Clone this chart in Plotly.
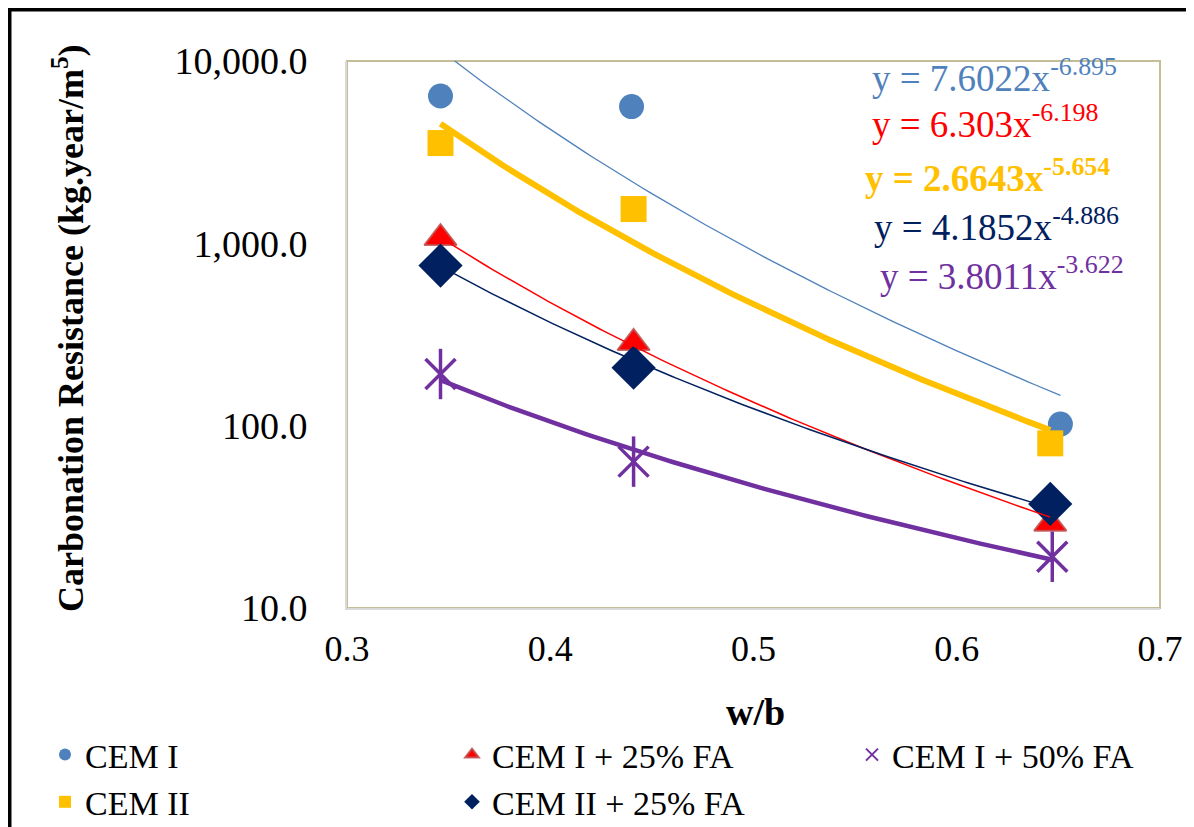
import numpy as np
import plotly.graph_objects as go

# ---------------- data ----------------
series_names = ["CEM I", "CEM II", "CEM I + 25% FA", "CEM II + 25% FA", "CEM I + 50% FA"]

wb_cem1 = [0.346, 0.440, 0.651]
cem1 = [6430, 5625, 102]

wb_cem2 = [0.346, 0.441, 0.646]
cem2 = [3548, 1542, 80]

wb_cem1_fa25 = [0.346, 0.441, 0.646]
cem1_fa25 = [1069, 284, 29.0]

wb_cem2_fa25 = [0.346, 0.441, 0.646]
cem2_fa25 = [755, 208, 37.2]

wb_cem1_fa50 = [0.346, 0.441, 0.647]
cem1_fa50 = [192, 63.5, 19.1]

# power trendlines y = a * x^b (as drawn)
trend_coef = {"CEM I": 7.6022, "CEM II": 6.303, "CEM I + 25% FA": 2.6643,
              "CEM II + 25% FA": 4.1852, "CEM I + 50% FA": 3.8011}
trend_exp = {"CEM I": -6.895, "CEM II": -6.198, "CEM I + 25% FA": -5.654,
             "CEM II + 25% FA": -4.886, "CEM I + 50% FA": -3.622}

# equation labels as printed on the chart
eq_coef_text = ["7.6022", "6.303", "2.6643", "4.1852", "3.8011"]
eq_exp_text = ["-6.895", "-6.198", "-5.654", "-4.886", "-3.622"]
eq_colors = ["#4F81BD", "#FF0000", "#FFC000", "#002060", "#7030A0"]
eq_bold = [False, False, True, False, False]

x_ticks = [0.3, 0.4, 0.5, 0.6, 0.7]
x_ticktext = ["0.3", "0.4", "0.5", "0.6", "0.7"]
y_ticks = [10, 100, 1000, 10000]
y_ticktext = ["10.0", "100.0", "1,000.0", "10,000.0"]

SERIF = "Liberation Serif, Times New Roman, serif"

# page offset (body margin of the html page)
OFF = 8
FIG_W, FIG_H = 1194 - OFF, 827 - OFF

fig = go.Figure()

data = {
    "CEM I": (wb_cem1, cem1),
    "CEM II": (wb_cem2, cem2),
    "CEM I + 25% FA": (wb_cem1_fa25, cem1_fa25),
    "CEM II + 25% FA": (wb_cem2_fa25, cem2_fa25),
    "CEM I + 50% FA": (wb_cem1_fa50, cem1_fa50),
}

style = {
    "CEM I": dict(marker=dict(symbol="circle", size=25, color="#4F81BD"),
                  line=dict(color="#4F81BD", width=1.3), legend="legend"),
    "CEM II": dict(marker=dict(symbol="square", size=26, color="#FFC000"),
                   line=dict(color="#FFC000", width=6), legend="legend"),
    "CEM I + 25% FA": dict(marker=dict(symbol="triangle-up", size=28, color="#FF0000",
                                       line=dict(color="rgba(192,80,77,0.85)", width=2)),
                           line=dict(color="#FF0000", width=1.5), legend="legend2"),
    "CEM II + 25% FA": dict(marker=dict(symbol="diamond", size=34, color="#002060"),
                            line=dict(color="#002060", width=1.5), legend="legend2"),
    "CEM I + 50% FA": dict(marker=dict(symbol="x-thin-open", size=30, color="#7030A0",
                                       line=dict(color="#7030A0", width=3.5)),
                           line=dict(color="#7030A0", width=4.5), legend="legend3"),
}

# markers
for name in series_names:
    xs, ys = data[name]
    st = style[name]
    fig.add_trace(go.Scatter(
        x=xs, y=ys, mode="markers", name=name, marker=st["marker"],
        legend=st["legend"], showlegend=True))
    if name == "CEM I + 50% FA":
        fig.add_trace(go.Scatter(
            x=xs, y=ys, mode="markers", name=name, showlegend=False,
            marker=dict(symbol="line-ns-open", size=36, color="#7030A0",
                        line=dict(color="#7030A0", width=3.5))))

# trendlines (power fits over each series' x range)
for name in series_names:
    xs, _ = data[name]
    xx = np.linspace(min(xs), max(xs), 120)
    yy = trend_coef[name] * xx ** trend_exp[name]
    fig.add_trace(go.Scatter(x=xx, y=yy, mode="lines", line=style[name]["line"],
                             showlegend=False, hoverinfo="skip"))

# plot geometry (pixels on the page) for placement
L, R, T, B = 347, 1160, 61, 608
W, H = R - L, B - T
def px(xp):
    return (xp - L) / W
def py(yp):
    return (B - yp) / H

eq_pos = [(870, 76), (870, 121), (863, 175), (872, 224), (878, 273)]
for i in range(5):
    txt = f"y = {eq_coef_text[i]}x<sup>{eq_exp_text[i]}</sup>"
    if eq_bold[i]:
        txt = f"<b>{txt}</b>"
    fig.add_annotation(x=px(eq_pos[i][0]), y=py(eq_pos[i][1]), xref="paper", yref="paper",
                       xanchor="left", yanchor="middle", showarrow=False, text=txt,
                       font=dict(family=SERIF, size=37, color=eq_colors[i]))

# axis titles
fig.add_annotation(x=px(68), y=py(328), xref="paper", yref="paper", showarrow=False,
                   textangle=-90, xanchor="center", yanchor="middle",
                   text="<b>Carbonation Resistance (kg.year/m<sup>5</sup>)</b>",
                   font=dict(family=SERIF, size=36, color="black"))
fig.add_annotation(x=px(755), y=py(712), xref="paper", yref="paper", showarrow=False,
                   xanchor="center", yanchor="middle", text="<b>w/b</b>",
                   font=dict(family=SERIF, size=38, color="black"))

# plot-area border (tan) and outer black frame (top & left)
fig.add_shape(type="rect", xref="paper", yref="paper", x0=0, y0=0, x1=1, y1=1,
              line=dict(color="#C4BD97", width=2), layer="below")
fig.add_shape(type="path", xref="paper", yref="paper",
              path=f"M {px(9)},{py(900)} L {px(9)},{py(9)} L {px(1210)},{py(9)}",
              line=dict(color="black", width=5))

leg_common = dict(orientation="v", xanchor="left", yanchor="top",
                  font=dict(family=SERIF, size=34, color="black"),
                  bgcolor="rgba(0,0,0,0)", tracegroupgap=0, itemsizing="constant")
leg_top = py(726)

fig.update_layout(
    width=FIG_W, height=FIG_H,
    margin=dict(l=L - OFF, r=FIG_W - (R - OFF), t=T - OFF, b=FIG_H - (B - OFF), autoexpand=False),
    paper_bgcolor="white", plot_bgcolor="white",
    font=dict(family=SERIF, color="black"),
    showlegend=True,
    legend=dict(x=px(45), y=leg_top, **leg_common),
    legend2=dict(x=px(452), y=leg_top, **leg_common),
    legend3=dict(x=px(852), y=leg_top, **leg_common),
    xaxis=dict(range=[0.3, 0.7], tickvals=x_ticks, ticktext=x_ticktext,
               showgrid=False, zeroline=False, showline=True, linecolor="#D9D9D9",
               linewidth=2, ticks="", ticklabelstandoff=8,
               tickfont=dict(family=SERIF, size=36, color="black")),
    yaxis=dict(type="log", range=[1, 4], tickvals=y_ticks, ticktext=y_ticktext,
               showgrid=False, zeroline=False, showline=True, linecolor="#D9D9D9",
               linewidth=2, ticks="", ticklabelstandoff=30,
               tickfont=dict(family=SERIF, size=38, color="black")),
)

fig.write_html("out.html")
